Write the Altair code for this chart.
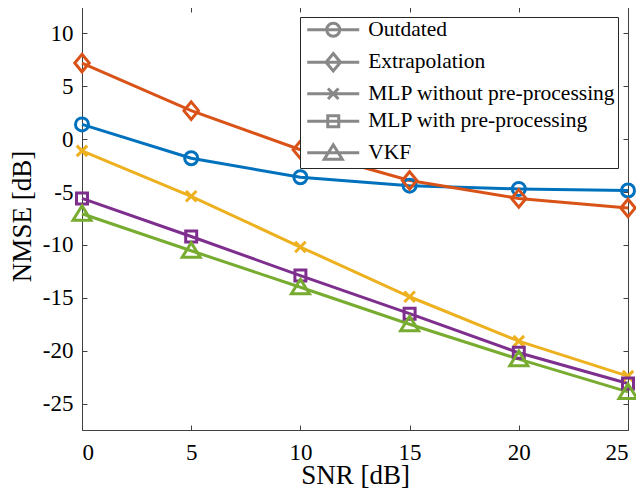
import altair as alt
import pandas as pd

# ---------------- data ----------------
snr = [0, 5, 10, 15, 20, 25]
names = ["Outdated", "Extrapolation", "MLP without pre-processing",
         "MLP with pre-processing", "VKF"]
outdated = [1.4, -1.8, -3.6, -4.4, -4.7, -4.85]
extrapolation = [7.2, 2.7, -1.0, -3.9, -5.6, -6.5]
mlp_without = [-1.1, -5.4, -10.2, -14.9, -19.1, -22.4]
mlp_with = [-5.6, -9.2, -12.9, -16.5, -20.2, -23.1]
vkf = [-7.05, -10.55, -14.0, -17.5, -20.8, -23.9]

colors = ["#0072BD", "#D95319", "#EDB120", "#7E2F8E", "#77AC30"]
x_ticks = [0, 5, 10, 15, 20, 25]
y_ticks = [-25, -20, -15, -10, -5, 0, 5, 10]

series_vals = [outdated, extrapolation, mlp_without, mlp_with, vkf]
rows = []
for nm, vals in zip(names, series_vals):
    for xv, yv in zip(snr, vals):
        rows.append({"snr": xv, "nmse": yv, "series": nm})
df = pd.DataFrame(rows)

# ---------------- marker shapes (unit = sqrt(size)/2 px) ----------------
SIZE = 100

def f(v):
    return f"{v:.2f}"

def m_circle(c):
    r = 1.3
    return f"M{f(c-r)},0A{r},{r} 0 1,0 {f(c+r)},0A{r},{r} 0 1,0 {f(c-r)},0Z"

def m_diamond(c):
    return f"M{f(c)},-1.75L{f(c+1.45)},0L{f(c)},1.75L{f(c-1.45)},0Z"

def m_cross(c):
    return f"M{f(c-1.05)},-1.05L{f(c+1.05)},1.05M{f(c-1.05)},1.05L{f(c+1.05)},-1.05"

def m_square(c):
    return f"M{f(c-1.1)},-1.1H{f(c+1.1)}V1.1H{f(c-1.1)}Z"

def m_triangle(c):
    return f"M{f(c)},-1.6L{f(c+1.8)},1.3L{f(c-1.8)},1.3Z"

marker_fns = [m_circle, m_diamond, m_cross, m_square, m_triangle]
marker_paths = [fn(0) for fn in marker_fns]
L0, L1 = -1.1, 9.3
mid = (L0 + L1) / 2
legend_paths = [f"M{f(L0)},0H{f(L1)}" + fn(mid) for fn in marker_fns]

FONT = "Liberation Serif"
AX = "#404040"
W, H = 546, 423
SW = 3

x_scale = alt.Scale(domain=[0, 25], nice=False, zero=False)
y_scale = alt.Scale(domain=[-27.5, 12.5], nice=False, zero=False)
color_scale = alt.Scale(domain=names, range=colors)

# main axes (labels + titles)
x_main = alt.Axis(orient="bottom", values=x_ticks, ticks=False, tickSize=0, domain=False,
                  grid=False, labelFont=FONT, labelFontSize=23, labelColor="black",
                  labelPadding=11, labelExpr="toString(datum.value)",
                  title="SNR [dB]", titleFont=FONT, titleFontSize=27,
                  titleFontWeight="normal", titleColor="black",
                  titleY=53, titleBaseline="alphabetic")
y_main = alt.Axis(orient="left", values=y_ticks, ticks=False, tickSize=0, domain=False,
                  grid=False, labelFont=FONT, labelFontSize=23, labelColor="black",
                  labelPadding=9, labelExpr="toString(datum.value)",
                  title="NMSE [dB]", titleFont=FONT, titleFontSize=27,
                  titleFontWeight="normal", titleColor="black",
                  titleX=-52, titleY=209, titleBaseline="alphabetic")

def tick_axis(orient, values, offset):
    return alt.Axis(orient=orient, offset=offset, values=values, labels=False,
                    domain=False, grid=False, ticks=True, tickSize=5,
                    tickColor=AX, tickWidth=1, title=None)

# invisible helper legend (kept enabled so it never merges a "disabled" flag
# into the visible legend)
leg_hidden = alt.Legend(orient="bottom-left", title=None, labelOpacity=0,
                        symbolOpacity=0, labelFontSize=1, symbolSize=1)

lines = alt.Chart(df).mark_line(strokeWidth=SW).encode(
    x=alt.X("snr:Q", scale=x_scale, axis=x_main),
    y=alt.Y("nmse:Q", scale=y_scale, axis=y_main),
    color=alt.Color("series:N", scale=color_scale, legend=leg_hidden),
)

point_layers = []
for i, nm in enumerate(names):
    if i == 0:
        xa = tick_axis("bottom", x_ticks, -H)   # top edge, ticks inward
        ya = tick_axis("right", y_ticks, -W)    # left edge, ticks inward
    else:
        xa = None
        ya = None
    pl = alt.Chart(df).transform_filter(alt.datum.series == nm).mark_point(
        shape=marker_paths[i], filled=False, size=SIZE, strokeWidth=SW, opacity=1
    ).encode(
        x=alt.X("snr:Q", scale=x_scale, axis=xa),
        y=alt.Y("nmse:Q", scale=y_scale, axis=ya),
        color=alt.Color("series:N", scale=color_scale, legend=leg_hidden),
    )
    point_layers.append(pl)

# visible legend (line + marker symbols)
leg = alt.Legend(orient="top-right", offset=10, title=None,
                 fillColor="white", strokeColor="#262626", padding=2,
                 labelFont=FONT, labelFontSize=21.5, labelColor="black",
                 labelLimit=600, labelOffset=44.7, rowPadding=4.5,
                 symbolSize=SIZE, symbolStrokeWidth=SW, symbolOpacity=1,
                 symbolFillColor="transparent",
                 labelExpr="datum.label + '\u00a0'")

# invisible layer that carries the legend and the right/bottom inward ticks
legend_layer = alt.Chart(df).mark_point(
    filled=False, size=SIZE, strokeWidth=SW, opacity=0
).encode(
    x=alt.X("snr:Q", scale=x_scale, axis=tick_axis("top", x_ticks, -H)),
    y=alt.Y("nmse:Q", scale=y_scale, axis=tick_axis("left", y_ticks, -W)),
    stroke=alt.Stroke("series:N", scale=alt.Scale(domain=names, range=colors),
                      legend=leg_hidden),
    shape=alt.Shape("series:N", scale=alt.Scale(domain=names, range=legend_paths),
                    legend=leg),
)

chart = alt.layer(lines, *point_layers, legend_layer).resolve_axis(
    x="independent", y="independent"
).properties(
    width=W, height=H,
    padding={"left": 74, "top": -1, "right": 8, "bottom": 58},
    autosize=alt.AutoSizeParams(type="none"),
).configure_view(stroke=AX, strokeWidth=1)

chart.save("out.html", embed_options={"renderer": "svg", "actions": False})
